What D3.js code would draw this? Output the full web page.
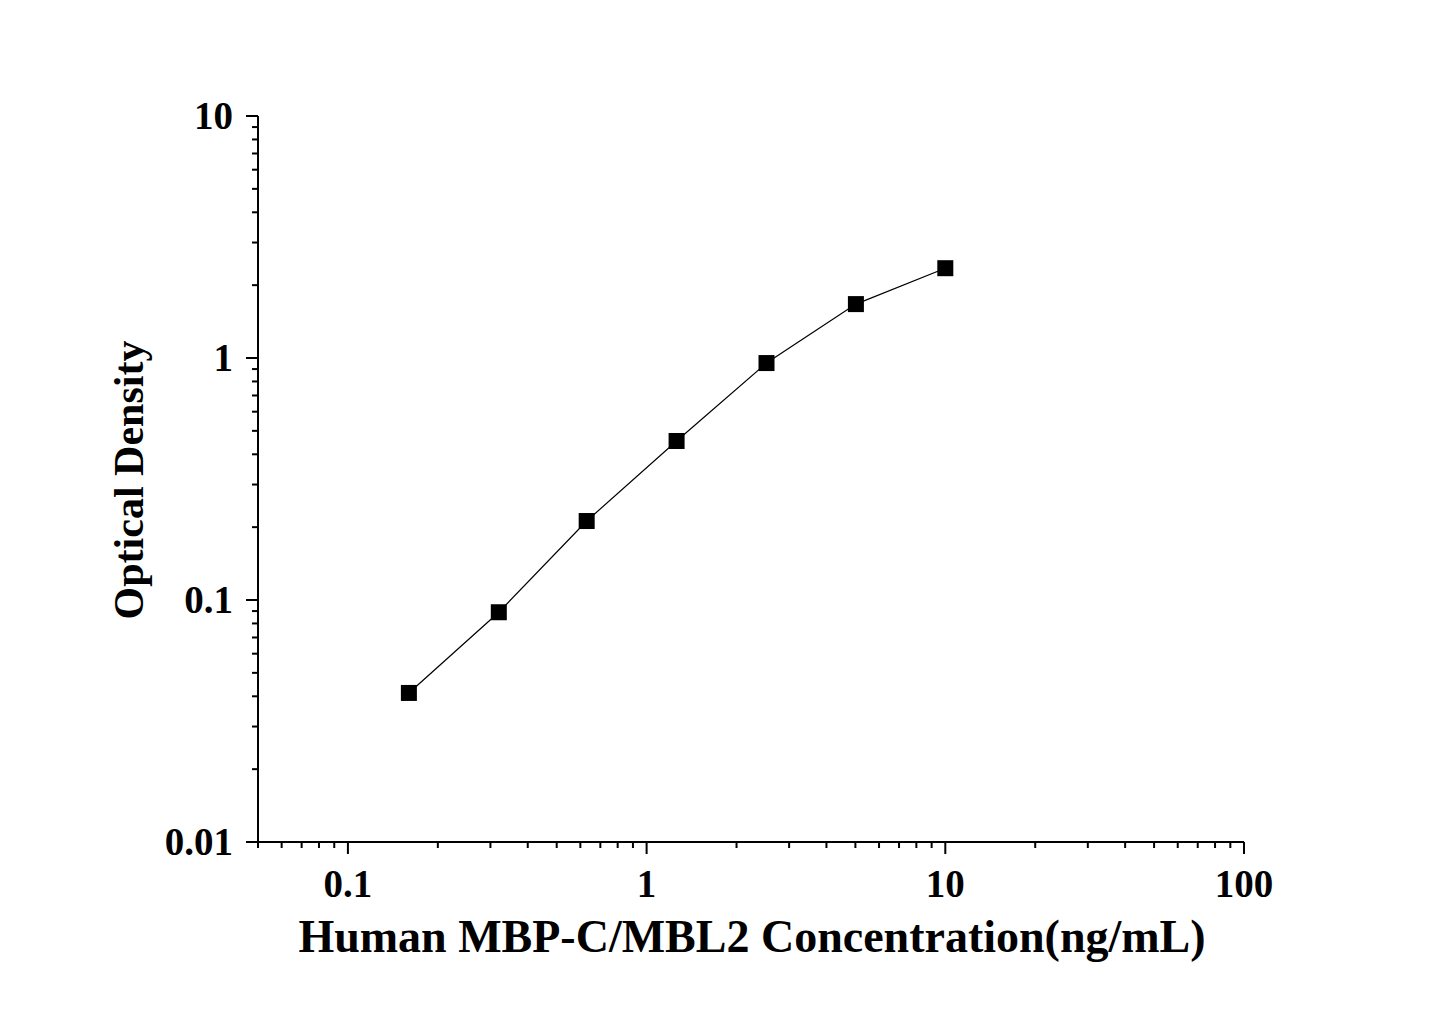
<!DOCTYPE html>
<html><head><meta charset="utf-8">
<script src="https://cdn.jsdelivr.net/npm/d3@7"></script>
<style>body{margin:0;background:#fff}</style></head>
<body><svg id="c" width="1445" height="1009"></svg>
<script>
const xValues=[0.16,0.32,0.63,1.26,2.52,5.02,10];
const yValues=[0.0413,0.089,0.212,0.454,0.953,1.67,2.35];
const xTickLabels=["0.1","1","10","100"];
const yTickLabels=["0.01","0.1","1","10"];
const svg=d3.select("#c");
const x=d3.scaleLog().domain([0.05,100]).range([258,1244]);
const y=d3.scaleLog().domain([0.01,10]).range([842,116]);
const font="'Liberation Serif','Times New Roman',serif";
function minors(dom){const r=[];for(let e=-3;e<3;e++)for(let k=1;k<10;k++){const v=k*Math.pow(10,e);if(v>=dom[0]-1e-12&&v<=dom[1]+1e-12)r.push(v);}return r;}
const xa=svg.append("g").attr("transform","translate(0,842)");
xa.append("line").attr("x1",258).attr("x2",1244).attr("stroke","#000").attr("stroke-width",2);
minors([0.05,100]).forEach(v=>{const maj=xTickLabels.map(Number).includes(v);
 xa.append("line").attr("x1",x(v)).attr("x2",x(v)).attr("y1",0).attr("y2",maj?12:6).attr("stroke","#000").attr("stroke-width",2);});
xTickLabels.forEach(t=>xa.append("text").attr("x",x(+t)).attr("y",55).attr("text-anchor","middle").attr("font-family",font).attr("font-weight","bold").attr("font-size",39).text(t));
const ya=svg.append("g").attr("transform","translate(258,0)");
ya.append("line").attr("y1",116).attr("y2",842).attr("stroke","#000").attr("stroke-width",2);
minors([0.01,10]).forEach(v=>{const maj=yTickLabels.map(Number).includes(v);
 ya.append("line").attr("y1",y(v)).attr("y2",y(v)).attr("x1",0).attr("x2",maj?-12:-6).attr("stroke","#000").attr("stroke-width",2);});
yTickLabels.forEach(t=>ya.append("text").attr("x",-25).attr("y",y(+t)+13).attr("text-anchor","end").attr("font-family",font).attr("font-weight","bold").attr("font-size",39).text(t));
const pts=xValues.map((v,i)=>[v,yValues[i]]);
svg.append("path").attr("d",d3.line().x(d=>x(d[0])).y(d=>y(d[1]))(pts)).attr("fill","none").attr("stroke","#000").attr("stroke-width",1.2);
svg.selectAll("rect.p").data(pts).enter().append("rect").attr("x",d=>x(d[0])-8).attr("y",d=>y(d[1])-8).attr("width",16).attr("height",16).attr("fill","#000");
svg.append("text").attr("x",752).attr("y",952).attr("text-anchor","middle").attr("font-family",font).attr("font-weight","bold").attr("font-size",46).text("Human MBP-C/MBL2 Concentration(ng/mL)");
svg.append("text").attr("transform","translate(143,480) rotate(-90)").attr("text-anchor","middle").attr("font-family",font).attr("font-weight","bold").attr("font-size",42).text("Optical Density");
</script></body></html>
